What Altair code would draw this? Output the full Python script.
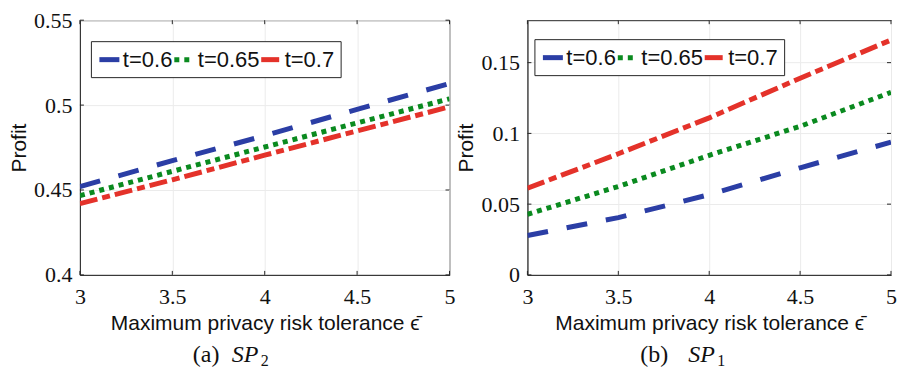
import altair as alt
import pandas as pd

eps_vals = [3.0, 3.5, 4.0, 4.5, 5.0]
series_names = ["t=0.6", "t=0.65", "t=0.7"]
series_colors = ["#2B3EA5", "#0A8A1F", "#E4322A"]
series_dashes = [[21, 19], [5, 5], [18, 5, 8, 5]]

# panel (a): SP2
sp2_t06 = [0.452, 0.4673, 0.482, 0.4975, 0.5127]
sp2_t065 = [0.4467, 0.461, 0.4753, 0.4895, 0.5037]
sp2_t07 = [0.442, 0.456, 0.4705, 0.4848, 0.499]
# panel (b): SP1
sp1_t06 = [0.0278, 0.0405, 0.0567, 0.0757, 0.0938]
sp1_t065 = [0.0428, 0.0625, 0.0845, 0.105, 0.129]
sp1_t07 = [0.0613, 0.0856, 0.111, 0.139, 0.166]

sp2_ticks = [0.4, 0.45, 0.5, 0.55]
sp1_ticks = [0, 0.05, 0.1, 0.15]
x_ticks = [3, 3.5, 4, 4.5, 5]

SERIF = "Liberation Serif"
SANS = "Liberation Sans"
AX = "#262626"
TXT = "#111111"


def make_df(v1, v2, v3):
    rows = []
    for name, vals in zip(series_names, [v1, v2, v3]):
        for x, y in zip(eps_vals, vals):
            rows.append({"eps": x, "profit": y, "series": name})
    return pd.DataFrame(rows)


def panel(df, ydomain, yticks, W, H, leg_x, leg_y, cap_label, cap_sub, a_dx, sp_dx, sub_dx):
    legend = alt.Legend(
        title=None, orient="none", legendX=leg_x, legendY=leg_y,
        direction="horizontal", symbolType="stroke", symbolSize=400,
        symbolStrokeWidth=5, labelFont=SANS, labelFontSize=22,
        labelColor=TXT, labelOffset=1, columnPadding=-9, padding=6,
        strokeColor=AX, fillColor="white", gridAlign="none",
    )
    xscale = alt.Scale(domain=[3, 5], nice=False)
    yscale = alt.Scale(domain=ydomain, nice=False, zero=False)
    lines = alt.Chart(df).mark_line(strokeWidth=5, strokeCap="butt", clip=True).encode(
        x=alt.X("eps:Q", scale=xscale,
                axis=alt.Axis(values=x_ticks, format=".1~f", labelFlush=False,
                              labelFont=SERIF, labelFontSize=22, labelColor=TXT,
                              title="Maximum privacy risk tolerance ϵ̄",
                              titleFont=SANS, titleFontSize=21, titleFontWeight="normal",
                              titleColor=TXT,
                              labelPadding=12, titlePadding=5)),
        y=alt.Y("profit:Q", scale=yscale,
                axis=alt.Axis(values=yticks, format=".2~f", title="Profit",
                              labelFont=SERIF, labelFontSize=22, labelColor=TXT,
                              titleFont=SANS, titleFontSize=21, titleFontWeight="normal",
                              titleColor=TXT,
                              labelPadding=8, titlePadding=4)),
        color=alt.Color("series:N", scale=alt.Scale(domain=series_names, range=series_colors),
                        legend=legend),
        strokeDash=alt.StrokeDash("series:N",
                                  scale=alt.Scale(domain=series_names, range=series_dashes),
                                  legend=legend),
    )
    # inward tick marks (MATLAB style) on all four sides
    xt = pd.DataFrame({"v": x_ticks})
    yt = pd.DataFrame({"v": yticks})
    tb = alt.Chart(xt).mark_rule(color=AX, strokeWidth=1)
    bottom_ticks = tb.encode(x=alt.X("v:Q", scale=xscale), y=alt.value(H), y2=alt.value(H - 4))
    top_ticks = tb.encode(x=alt.X("v:Q", scale=xscale), y=alt.value(0), y2=alt.value(4))
    tl = alt.Chart(yt).mark_rule(color=AX, strokeWidth=1)
    left_ticks = tl.encode(y=alt.Y("v:Q", scale=yscale), x=alt.value(0), x2=alt.value(4))
    right_ticks = tl.encode(y=alt.Y("v:Q", scale=yscale), x=alt.value(W), x2=alt.value(W - 4))

    cap = pd.DataFrame({"a": [cap_label], "b": ["SP"], "c": [cap_sub]})
    capc = alt.Chart(cap)
    cap_y = H + 87
    c1 = capc.mark_text(font=SERIF, fontSize=24, align="left", baseline="alphabetic",
                        color=TXT).encode(
        text="a:N", x=alt.value(a_dx), y=alt.value(cap_y))
    c2 = capc.mark_text(font=SERIF, fontSize=24, fontStyle="italic", align="left",
                        baseline="alphabetic", color=TXT).encode(
        text="b:N", x=alt.value(sp_dx), y=alt.value(cap_y))
    c3 = capc.mark_text(font=SERIF, fontSize=16, align="left", baseline="alphabetic",
                        color=TXT).encode(
        text="c:N", x=alt.value(sub_dx), y=alt.value(cap_y + 4))

    return alt.layer(lines, bottom_ticks, top_ticks, left_ticks, right_ticks, c1, c2, c3).properties(
        width=W, height=H)


left = panel(make_df(sp2_t06, sp2_t065, sp2_t07), [0.4, 0.55], sp2_ticks, 370, 255,
             11, 21, "(a)", "2", 113, 152, 181)
right = panel(make_df(sp1_t06, sp1_t065, sp1_t07), [0, 0.18], sp1_ticks, 364, 255,
              7, 19, "(b)", "1", 113, 161, 190)

chart = alt.hconcat(left, right, spacing=0).resolve_scale(
    color="independent", strokeDash="independent", y="independent"
).resolve_legend(color="independent", strokeDash="independent").properties(
    padding={"left": 0, "top": 0, "right": 0, "bottom": 0}, background="white"
).configure_view(stroke=AX, strokeWidth=1).configure_axis(
    domainColor=AX, domainWidth=1, ticks=False,
    grid=True, gridColor="#EBEBEB", gridWidth=1,
)

chart.save("out.html", embed_options={"renderer": "svg", "actions": False})
